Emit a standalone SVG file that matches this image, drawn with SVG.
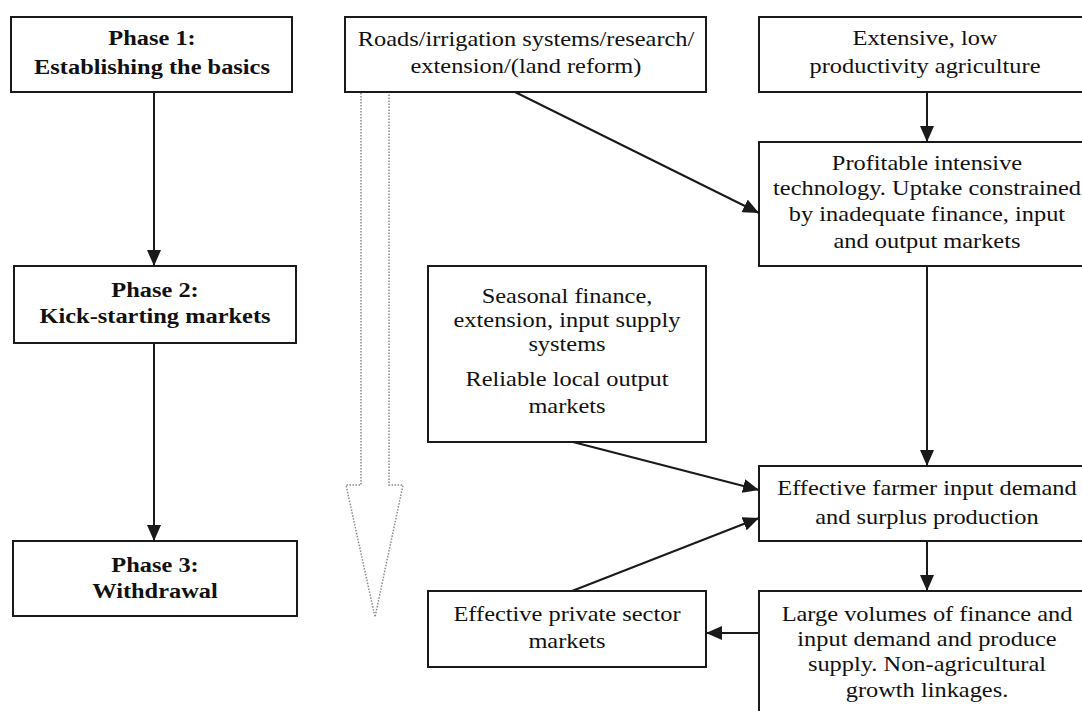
<svg xmlns="http://www.w3.org/2000/svg" width="1082" height="711" viewBox="0 0 1082 711">
<style>
.box{fill:#fff;stroke:#1a1a1a;stroke-width:2}
.t{font-family:"Liberation Serif","Times New Roman",serif;font-size:20px;fill:#111;text-anchor:middle}
.b{font-weight:bold}
.c{stroke:#1a1a1a;stroke-width:2;fill:none}
.big{fill:none;stroke:#8a8a8a;stroke-width:1.5;stroke-dasharray:1.5 1.5}
</style>
<defs>
<marker id="ah" viewBox="0 0 16 14" refX="16" refY="7" markerWidth="16" markerHeight="14" markerUnits="userSpaceOnUse" orient="auto">
<path d="M0,0 L16,7 L0,14 z" fill="#1a1a1a"/>
</marker>
</defs>
<rect width="1082" height="711" fill="#fff"/>

<g id="phase1">
<rect class="box" x="11" y="17" width="281" height="75"/>
<text class="t b" transform="translate(152,45) scale(1.22,1)">Phase 1:</text>
<text class="t b" transform="translate(152,74) scale(1.22,1)">Establishing the basics</text>
</g>
<g id="phase2">
<rect class="box" x="14" y="266" width="282" height="77"/>
<text class="t b" transform="translate(155,297) scale(1.22,1)">Phase 2:</text>
<text class="t b" transform="translate(155,323) scale(1.22,1)">Kick-starting markets</text>
</g>
<g id="phase3">
<rect class="box" x="13" y="541" width="284" height="75"/>
<text class="t b" transform="translate(155,572) scale(1.22,1)">Phase 3:</text>
<text class="t b" transform="translate(155,598) scale(1.22,1)">Withdrawal</text>
</g>

<g id="bigarrow">
<polyline class="big" points="361,93 361,485 346,485 375,617 403,485 389,485 389,93"/>
</g>

<g id="roads">
<rect class="box" x="345" y="17" width="361" height="75"/>
<text class="t" transform="translate(526,46) scale(1.22,1)">Roads/irrigation systems/research/</text>
<text class="t" transform="translate(526,73) scale(1.22,1)">extension/(land reform)</text>
</g>
<g id="extensive">
<rect class="box" x="759" y="17" width="340" height="75"/>
<text class="t" transform="translate(925,45) scale(1.22,1)">Extensive, low</text>
<text class="t" transform="translate(925,73) scale(1.22,1)">productivity agriculture</text>
</g>
<g id="profitable">
<rect class="box" x="759" y="142" width="340" height="124"/>
<text class="t" transform="translate(927,170) scale(1.22,1)">Profitable intensive</text>
<text class="t" transform="translate(927,195) scale(1.22,1)">technology. Uptake constrained</text>
<text class="t" transform="translate(927,221) scale(1.22,1)">by inadequate finance, input</text>
<text class="t" transform="translate(927,248) scale(1.22,1)">and output markets</text>
</g>
<g id="seasonal">
<rect class="box" x="428" y="266" width="278" height="176"/>
<text class="t" transform="translate(567,303) scale(1.22,1)">Seasonal finance,</text>
<text class="t" transform="translate(567,327) scale(1.22,1)">extension, input supply</text>
<text class="t" transform="translate(567,351) scale(1.22,1)">systems</text>
<text class="t" transform="translate(567,386) scale(1.22,1)">Reliable local output</text>
<text class="t" transform="translate(567,413) scale(1.22,1)">markets</text>
</g>
<g id="farmer">
<rect class="box" x="759" y="466" width="340" height="75"/>
<text class="t" transform="translate(927,495) scale(1.22,1)">Effective farmer input demand</text>
<text class="t" transform="translate(927,524) scale(1.22,1)">and surplus production</text>
</g>
<g id="private">
<rect class="box" x="428" y="591" width="278" height="76"/>
<text class="t" transform="translate(567,621) scale(1.22,1)">Effective private sector</text>
<text class="t" transform="translate(567,648) scale(1.22,1)">markets</text>
</g>
<g id="large">
<rect class="box" x="759" y="591" width="340" height="140"/>
<text class="t" transform="translate(927,621) scale(1.22,1)">Large volumes of finance and</text>
<text class="t" transform="translate(927,646) scale(1.22,1)">input demand and produce</text>
<text class="t" transform="translate(927,671) scale(1.22,1)">supply. Non-agricultural</text>
<text class="t" transform="translate(927,697) scale(1.22,1)">growth linkages.</text>
</g>

<g id="connectors">
<line class="c" x1="154" y1="92" x2="154" y2="266" marker-end="url(#ah)"/>
<line class="c" x1="154" y1="343" x2="154" y2="541" marker-end="url(#ah)"/>
<line class="c" x1="927" y1="92" x2="927" y2="142" marker-end="url(#ah)"/>
<line class="c" x1="515" y1="92" x2="759" y2="213" marker-end="url(#ah)"/>
<line class="c" x1="927" y1="266" x2="927" y2="466" marker-end="url(#ah)"/>
<line class="c" x1="573" y1="442" x2="759" y2="490" marker-end="url(#ah)"/>
<line class="c" x1="572" y1="591" x2="759" y2="518" marker-end="url(#ah)"/>
<line class="c" x1="927" y1="541" x2="927" y2="591" marker-end="url(#ah)"/>
<line class="c" x1="759" y1="633" x2="706" y2="633" marker-end="url(#ah)"/>
</g>
</svg>
